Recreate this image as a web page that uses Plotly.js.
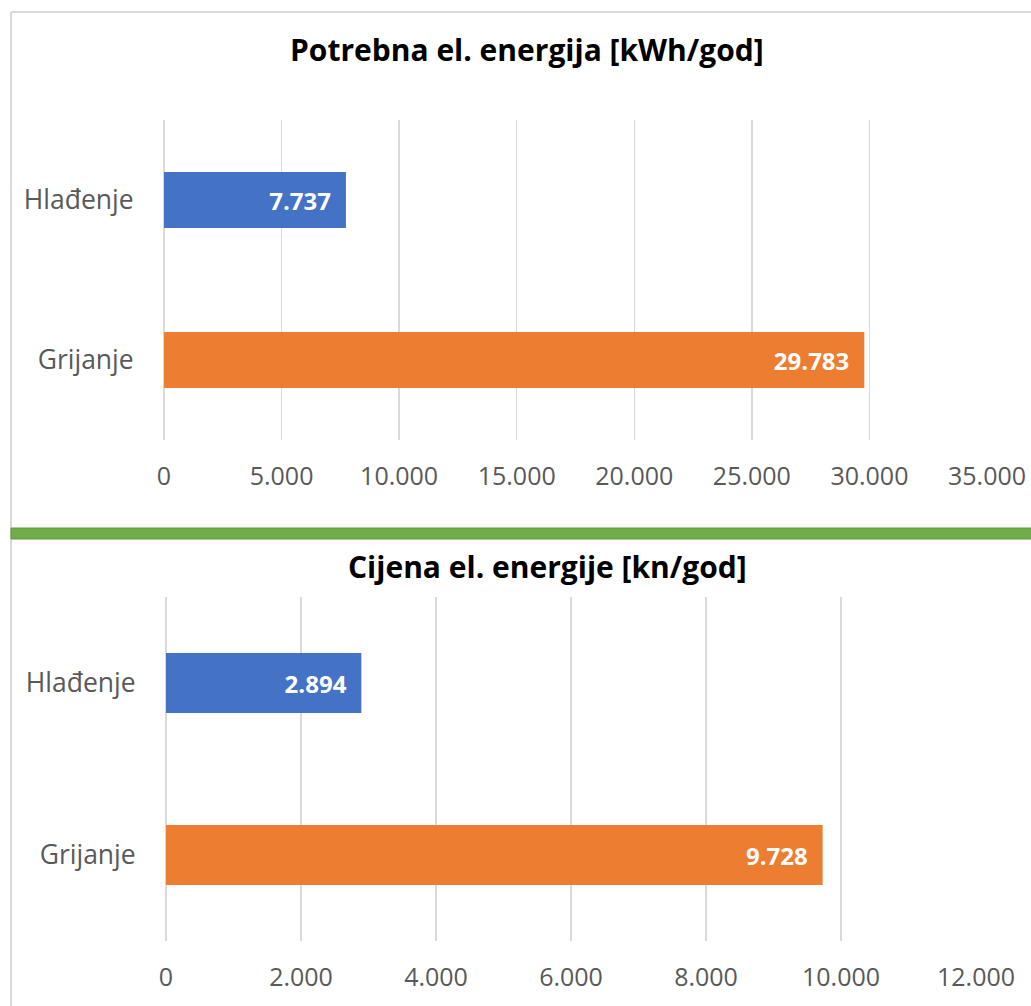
<!DOCTYPE html>
<html>
<head>
<meta charset="utf-8">
<script src="https://cdn.plot.ly/plotly-3.0.1.min.js"></script>
<style>html,body{margin:0;padding:0;background:#fff;}#chart{width:1031px;height:1006px;}</style>
</head>
<body>
<div id="chart"></div>
<script>
// ---- data ----
const categories = ['Hlađenje', 'Grijanje'];
const energyKWh = [7737, 29783];      // Potrebna el. energija [kWh/god]
const costKn = [2894, 9728];          // Cijena el. energije [kn/god]
const barColors = ['#4472C4', '#ED7D31'];
const title1 = 'Potrebna el. energija [kWh/god]';
const title2 = 'Cijena el. energije [kn/god]';
const ticks1 = [0, 5000, 10000, 15000, 20000, 25000, 30000, 35000];
const ticks2 = [0, 2000, 4000, 6000, 8000, 10000, 12000];

const W = 1031, H = 1006;
const px = v => v / W;
const py = v => 1 - v / H;
const FONT = '"Open Sans", sans-serif';

const labelStyle = {family: FONT, size: 24, color: '#ffffff', weight: 'bold'};

const traces = [
  {
    type: 'bar', orientation: 'h', x: energyKWh, y: categories,
    xaxis: 'x', yaxis: 'y',
    marker: {color: barColors},
    texttemplate: '<b>%{x:,}</b>\u2002', textposition: 'inside', insidetextanchor: 'end',
    textfont: labelStyle, hoverinfo: 'skip', cliponaxis: false
  },
  {
    type: 'bar', orientation: 'h', x: costKn, y: categories,
    xaxis: 'x2', yaxis: 'y2',
    marker: {color: barColors},
    texttemplate: '<b>%{x:,}</b>\u2002', textposition: 'inside', insidetextanchor: 'end',
    textfont: labelStyle, hoverinfo: 'skip', cliponaxis: false
  }
];

const xCommon = {
  showgrid: true, gridcolor: '#d9d9d9', gridwidth: 1.5,
  zeroline: true, zerolinecolor: '#d9d9d9', zerolinewidth: 1.5, showline: false,
  ticks: 'outside', ticklen: 14, tickcolor: 'rgba(0,0,0,0)',
  tickfont: {family: FONT, size: 25, color: '#595959'},
  tickformat: ',', fixedrange: true
};
const yCommon = {
  type: 'category', autorange: 'reversed', showgrid: false, zeroline: false, showline: false,
  ticks: 'outside', ticklen: 24, tickcolor: 'rgba(0,0,0,0)',
  tickfont: {family: FONT, size: 26.5, color: '#595959'}, fixedrange: true
};

const layout = {
  width: W, height: H,
  margin: {l: 0, r: 0, t: 0, b: 0},
  paper_bgcolor: '#ffffff', plot_bgcolor: 'rgba(0,0,0,0)',
  separators: ',.',
  showlegend: false,
  bargap: 0.65,
  xaxis: Object.assign({}, xCommon, {domain: [px(164), px(987)], range: [0, 35000], tickvals: ticks1, anchor: 'y'}),
  yaxis: Object.assign({}, yCommon, {domain: [py(440), py(120)], anchor: 'x'}),
  xaxis2: Object.assign({}, xCommon, {domain: [px(166), px(976)], range: [0, 12000], tickvals: ticks2, anchor: 'y2'}),
  yaxis2: Object.assign({}, yCommon, {domain: [py(941), py(597)], anchor: 'x2'}),
  annotations: [
    {text: '<b>' + title1 + '</b>', xref: 'paper', yref: 'paper', x: px(527), y: py(50),
     xanchor: 'center', yanchor: 'middle', showarrow: false, font: {family: FONT, size: 30, color: '#000000'}},
    {text: '<b>' + title2 + '</b>', xref: 'paper', yref: 'paper', x: px(547), y: py(566),
     xanchor: 'center', yanchor: 'middle', showarrow: false, font: {family: FONT, size: 30, color: '#000000'}}
  ],
  shapes: [
    {type: 'line', xref: 'paper', yref: 'paper', x0: px(11), x1: 1.01, y0: py(12), y1: py(12), line: {color: '#d9d9d9', width: 2}},
    {type: 'line', xref: 'paper', yref: 'paper', x0: px(11), x1: px(11), y0: py(12), y1: -0.01, line: {color: '#d9d9d9', width: 2}},
    {type: 'rect', xref: 'paper', yref: 'paper', x0: px(11), x1: 1.01, y0: py(528), y1: py(539),
     fillcolor: '#70AD47', line: {color: '#5B9A3C', width: 1}}
  ]
};

Plotly.newPlot('chart', traces, layout, {displayModeBar: false, staticPlot: true});
</script>
</body>
</html>
